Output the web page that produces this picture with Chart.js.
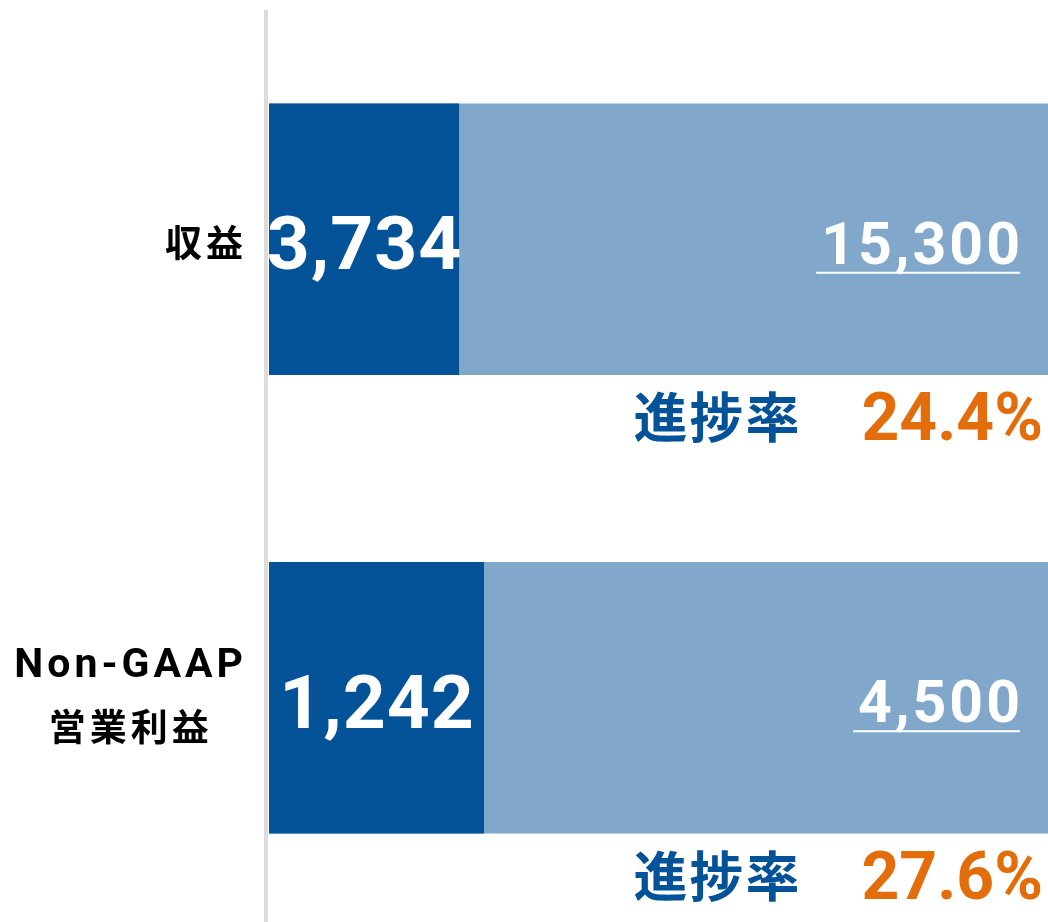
<!DOCTYPE html>
<html>
<head>
<meta charset="utf-8">
<script src="https://cdn.jsdelivr.net/npm/chart.js@4/dist/chart.umd.min.js"></script>
<style>
  html, body { margin: 0; padding: 0; background: #ffffff; overflow: hidden; }
  #wrap { position: relative; width: 1048px; height: 927px; }
</style>
</head>
<body>
<div id="wrap"><canvas id="c"></canvas></div>
<script>
// ---- data ----
const categories = [['収益'], ['Non-GAAP', '営業利益']];
const actualValues = [3734, 1242];
const targetValues = [15300, 4500];
const progressRates = [24.4, 27.6];
const fullScale = [100, 100];
const progressLabel = '進捗率';

// ---- styles ----
const DARK = '#045399';
const LIGHT = '#81a8cb';
const ORANGE = '#e36c0b';
const AXIS_GRAY = '#dcdcdc';
const CJK = '"Noto Sans CJK JP"';
const LATIN = 'Roboto';

function hasCJK(s) { return /[\u3000-\u9fff]/.test(s); }

function spacedWidth(ctx, text, spacing) {
  let w = 0;
  for (const ch of text) w += ctx.measureText(ch).width;
  return w + spacing * (Array.from(text).length - 1);
}
function drawSpaced(ctx, text, x, y, align, spacing) {
  const w = spacedWidth(ctx, text, spacing);
  let sx = align === 'right' ? x - w : align === 'center' ? x - w / 2 : x;
  ctx.textAlign = 'left';
  for (const ch of text) {
    ctx.fillText(ch, sx, y);
    sx += ctx.measureText(ch).width + spacing;
  }
  return { left: x - (align === 'right' ? w : align === 'center' ? w / 2 : 0), width: w };
}

const labelPlugin = {
  id: 'labels',
  beforeDatasetsDraw(chart) {
    const { ctx, chartArea } = chart;
    ctx.save();
    ctx.strokeStyle = AXIS_GRAY;
    ctx.lineWidth = 4;
    ctx.beginPath();
    ctx.moveTo(chartArea.left - 3, chartArea.top);
    ctx.lineTo(chartArea.left - 3, chartArea.bottom);
    ctx.stroke();
    ctx.restore();
  },
  afterDatasetsDraw(chart) {
    const { ctx, chartArea } = chart;
    const yScale = chart.scales.y;
    const darkMeta = chart.getDatasetMeta(0);
    ctx.save();
    ctx.textBaseline = 'alphabetic';
    categories.forEach((lines, i) => {
      const cy = yScale.getPixelForValue(i);
      const bar = darkMeta.data[i].getProps(['x', 'y', 'base', 'height'], true);
      const barBottom = bar.y + bar.height / 2;

      // category label (left side)
      const rightX = chartArea.left - 26;
      if (lines.length === 1) {
        ctx.font = `700 37px ${CJK}`;
        ctx.fillStyle = '#000';
        drawSpaced(ctx, lines[0], rightX, cy + 18, 'right', 4);
      } else {
        const specs = lines.map((t) => {
          const cjk = hasCJK(t);
          return { t, font: cjk ? `700 37px ${CJK}` : `700 41px ${LATIN}`, sp: cjk ? 4 : 4 };
        });
        let blockW = 0;
        specs.forEach(s => { ctx.font = s.font; s.w = spacedWidth(ctx, s.t, s.sp); blockW = Math.max(blockW, s.w); });
        const cx = rightX - blockW / 2;
        ctx.fillStyle = '#000';
        ctx.font = specs[0].font;
        drawSpaced(ctx, specs[0].t, cx, cy - 20.5, 'center', specs[0].sp);
        ctx.font = specs[1].font;
        drawSpaced(ctx, specs[1].t, cx, cy + 43, 'center', specs[1].sp);
      }

      // actual value inside dark bar
      ctx.fillStyle = '#ffffff';
      ctx.font = `700 75px ${LATIN}`;
      drawSpaced(ctx, actualValues[i].toLocaleString('en-US'), (bar.base + bar.x) / 2, cy + 30, 'center', 1);

      // target value, underlined
      ctx.font = `700 59px ${LATIN}`;
      const tRight = chartArea.right - 28;
      const tInfo = drawSpaced(ctx, targetValues[i].toLocaleString('en-US'), tRight, cy + 24.5, 'right', 3);
      ctx.fillRect(tInfo.left - 5, cy + 24.5 + 8, tInfo.width + 5, 2);

      // progress rate
      ctx.fillStyle = ORANGE;
      ctx.font = `700 66px ${LATIN}`;
      const pInfo = drawSpaced(ctx, progressRates[i].toFixed(1) + '%', chartArea.right - 5, barBottom + 65.5, 'right', 0);
      ctx.fillStyle = DARK;
      ctx.font = `700 54px ${CJK}`;
      drawSpaced(ctx, progressLabel, pInfo.left - 62, barBottom + 43 + 20.5, 'right', 2);
    });
    ctx.restore();
  }
};

new Chart(document.getElementById('c'), {
  type: 'bar',
  data: {
    labels: categories,
    datasets: [
      {
        label: 'actual',
        data: progressRates,
        backgroundColor: DARK,
        order: 0,
        grouped: false,
        barPercentage: 0.592,
        categoryPercentage: 1
      },
      {
        label: 'target',
        data: fullScale,
        backgroundColor: LIGHT,
        order: 1,
        grouped: false,
        barPercentage: 0.592,
        categoryPercentage: 1
      }
    ]
  },
  options: {
    indexAxis: 'y',
    responsive: true,
    maintainAspectRatio: false,
    animation: false,
    layout: { padding: { top: 10, left: 269, right: 0, bottom: 0 } },
    plugins: { legend: { display: false }, tooltip: { enabled: false } },
    scales: {
      x: { display: false, min: 0, max: 100, stacked: false },
      y: { display: false, offset: true }
    }
  },
  plugins: [labelPlugin]
});
</script>
</body>
</html>
